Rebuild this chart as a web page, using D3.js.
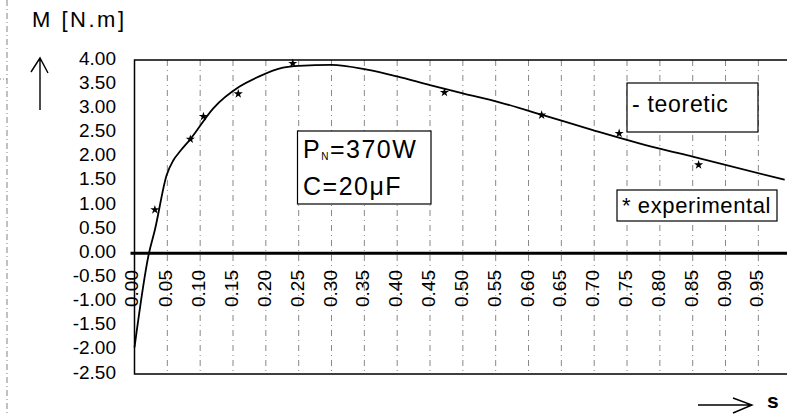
<!DOCTYPE html>
<html>
<head>
<meta charset="utf-8">
<script src="https://cdn.jsdelivr.net/npm/d3@7/dist/d3.min.js"></script>
<style>
  body { margin: 0; background: #fff; }
  svg { display: block; font-family: Arial, "Liberation Sans", sans-serif; }
</style>
</head>
<body>
<div id="chart"></div>
<script>
// data
const theoS = [0, 0.022, 0.031, 0.049, 0.059, 0.07, 0.085, 0.12, 0.16, 0.19, 0.226, 0.25, 0.30, 0.354, 0.40, 0.45, 0.50, 0.557, 0.622, 0.698, 0.795, 0.85, 0.99];
const theoM = [-1.95, 0, 0.48, 1.62, 1.92, 2.12, 2.36, 3.0, 3.45, 3.66, 3.84, 3.88, 3.90, 3.80, 3.66, 3.48, 3.31, 3.12, 2.86, 2.55, 2.18, 2.0, 1.52];

const expS = [0.031, 0.085, 0.105, 0.158, 0.241, 0.472, 0.62, 0.738, 0.859];
const expM = [0.90, 2.36, 2.83, 3.30, 3.93, 3.33, 2.86, 2.48, 1.83];

const xTicks = [0, 0.05, 0.10, 0.15, 0.20, 0.25, 0.30, 0.35, 0.40, 0.45, 0.50, 0.55, 0.60, 0.65, 0.70, 0.75, 0.80, 0.85, 0.90, 0.95];
const yTicks = [4, 3.5, 3, 2.5, 2, 1.5, 1, 0.5, 0, -0.5, -1, -1.5, -2, -2.5];

const width = 787, height = 414;
const plotLeft = 134.5, plotRight = 787, plotTop = 60, plotBottom = 374;

const x = d3.scaleLinear().domain([0, 1]).range([plotLeft, 791.2]);
const y = d3.scaleLinear().domain([-2.5, 4]).range([plotBottom, plotTop]);

let svg = d3.select("#chart").append("svg")
    .attr("width", width)
    .attr("height", height);

// page margin line at far left
svg.append("line")
    .attr("x1", 7).attr("x2", 7).attr("y1", 0).attr("y2", height)
    .attr("stroke", "#666").attr("stroke-width", 0.8)
    .attr("stroke-dasharray", "6,3,1,3");
svg.append("line")
    .attr("x1", 0).attr("x2", 8).attr("y1", 79).attr("y2", 79)
    .attr("stroke", "#666").attr("stroke-width", 0.8)
    .attr("stroke-dasharray", "1,2");

// vertical dashed grid
svg.append("g").selectAll("line")
    .data(xTicks.filter(d => d > 0))
  .enter().append("line")
    .attr("x1", d => x(d)).attr("x2", d => x(d))
    .attr("y1", plotTop).attr("y2", plotBottom)
    .attr("stroke", "#555").attr("stroke-width", 0.7)
    .attr("stroke-dasharray", "6,4,1,4");

// frame
svg.append("path")
    .attr("d", `M${plotRight},${plotTop}H${plotLeft}V${plotBottom}H${plotRight}`)
    .attr("fill", "none").attr("stroke", "#000").attr("stroke-width", 1.5);

// zero line
svg.append("line")
    .attr("x1", plotLeft - 4).attr("x2", plotRight)
    .attr("y1", y(0)).attr("y2", y(0))
    .attr("stroke", "#000").attr("stroke-width", 3);

// y tick labels
svg.append("g").selectAll("text")
    .data(yTicks)
  .enter().append("text")
    .attr("x", 116)
    .attr("y", d => y(d) - 2)
    .attr("dy", "0.35em")
    .attr("text-anchor", "end")
    .attr("font-size", 19)
    .text(d => d.toFixed(2));

// x tick labels, rotated, inside the plot
svg.append("g").selectAll("text")
    .data(xTicks)
  .enter().append("text")
    .attr("transform", d => `translate(${x(d) + (d === 0 ? 3 : 5)},307) rotate(-90)`)
    .attr("text-anchor", "start")
    .attr("font-size", 19)
    .text(d => d.toFixed(2));

// theoretical curve
const theo = theoS.map((s, i) => [s, theoM[i]]);
const line = d3.line()
    .x(d => x(d[0]))
    .y(d => y(d[1]))
    .curve(d3.curveMonotoneX);
svg.append("path")
    .datum(theo)
    .attr("d", line)
    .attr("fill", "none")
    .attr("stroke", "#000")
    .attr("stroke-width", 1.8);

// experimental points
const star = d3.symbol().type(d3.symbolStar).size(26);
svg.append("g").selectAll("path")
    .data(expS.map((s, i) => [s, expM[i]]))
  .enter().append("path")
    .attr("d", star)
    .attr("transform", d => `translate(${x(d[0])},${y(d[1])})`)
    .attr("fill", "#000");

// annotation box
svg.append("rect")
    .attr("x", 297.5).attr("y", 131).attr("width", 133.5).attr("height", 73)
    .attr("fill", "#fff").attr("stroke", "#000").attr("stroke-width", 1.2);
let pn = svg.append("text")
    .attr("x", 303).attr("y", 158)
    .attr("font-size", 25).attr("letter-spacing", 1.5);
pn.append("tspan").text("P");
pn.append("tspan").attr("font-size", 10).attr("dy", 2).text("N");
pn.append("tspan").attr("dy", -2).text("=370W");
svg.append("text")
    .attr("x", 303).attr("y", 195)
    .attr("font-size", 25).attr("letter-spacing", 1.5)
    .text("C=20μF");

// legend boxes
svg.append("rect")
    .attr("x", 627).attr("y", 83).attr("width", 131).attr("height", 49)
    .attr("fill", "#fff").attr("stroke", "#000").attr("stroke-width", 1.2);
svg.append("text")
    .attr("x", 632).attr("y", 112)
    .attr("font-size", 23).attr("letter-spacing", 0.7)
    .text("- teoretic");
svg.append("rect")
    .attr("x", 617).attr("y", 190).attr("width", 160).attr("height", 31)
    .attr("fill", "#fff").attr("stroke", "#000").attr("stroke-width", 1.2);
svg.append("text")
    .attr("x", 622).attr("y", 213)
    .attr("font-size", 22).attr("letter-spacing", 0.6)
    .text("* experimental");

// axis title and arrows
svg.append("text")
    .attr("x", 32).attr("y", 27)
    .attr("font-size", 22).attr("letter-spacing", 2.5)
    .text("M [N.m]");
svg.append("path")
    .attr("d", "M40,110V58M31,72L40,58L48,73")
    .attr("fill", "none").attr("stroke", "#000").attr("stroke-width", 1.4);
svg.append("path")
    .attr("d", "M698,405H752M733,398L752,405L733,413")
    .attr("fill", "none").attr("stroke", "#000").attr("stroke-width", 1.4);
svg.append("text")
    .attr("x", 767).attr("y", 408)
    .attr("font-size", 21).attr("font-weight", "bold")
    .text("s");
</script>
</body>
</html>
